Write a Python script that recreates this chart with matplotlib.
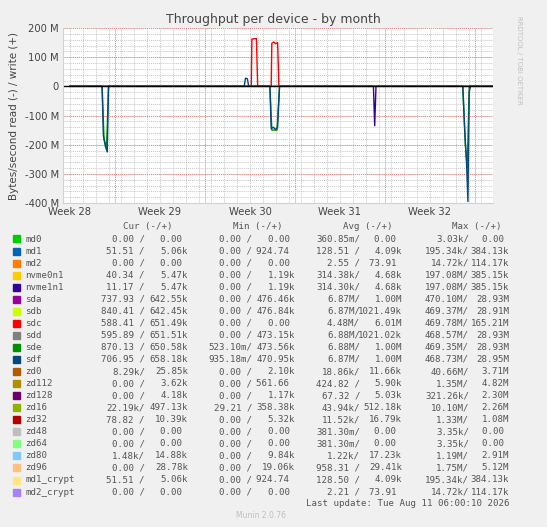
import numpy as np
import matplotlib.pyplot as plt
from matplotlib.ticker import MultipleLocator, FuncFormatter

# --- data (x in days since week 28 label, y in bytes/s) ---
sdf_x = [0, 2.5, 2.6, 2.75, 2.9, 3.0, 13.55, 13.65, 13.8, 13.9, 15.55, 15.65, 15.8, 16.0, 16.15, 16.3,
         30.55, 30.7, 30.85, 30.95, 31.05, 31.15, 33]
sdf_y = [0, 0, -170e6, -205e6, -225e6, 0, 0, 28e6, 26e6, 0, 0, -145e6, -140e6, -148e6, -140e6, 0,
         0, -150e6, -270e6, -395e6, -20e6, 0, 0]
sde_x = [0, 2.5, 2.65, 2.85, 3.0, 15.55, 15.7, 16.1, 16.3, 30.55, 30.75, 30.9, 31.05, 33]
sde_y = [0, 0, -180e6, -210e6, 0, 0, -150e6, -150e6, 0, 0, -200e6, -280e6, 0, 0]
sdc_x = [0, 14.1, 14.15, 14.5, 14.6, 15.65, 15.7, 15.85, 16.0, 16.15, 16.25, 33]
sdc_y = [0, 0, 162e6, 164e6, 0, 0, 148e6, 152e6, 146e6, 150e6, 0, 0]
nvme_x = [0, 23.6, 23.7, 23.8, 33]
nvme_y = [0, 0, -135e6, 0, 0]

names = ["md0", "md1", "md2", "nvme0n1", "nvme1n1", "sda", "sdb", "sdc", "sdd", "sde", "sdf",
         "zd0", "zd112", "zd128", "zd16", "zd32", "zd48", "zd64", "zd80", "zd96", "md1_crypt", "md2_crypt"]
colors = ["#00CC00", "#0066B3", "#FF8000", "#FFCC00", "#330099", "#990099", "#CCFF00", "#FF0000",
          "#808080", "#008F00", "#00487D", "#B35A00", "#B38F00", "#6B006B", "#8FB300", "#B30000",
          "#BEBEBE", "#80FF80", "#80C9FF", "#FFC080", "#FFE680", "#AA80FF"]
cur = [("0.00", "0.00"), ("51.51", "5.06k"), ("0.00", "0.00"), ("40.34", "5.47k"), ("11.17", "5.47k"),
       ("737.93", "642.55k"), ("840.41", "642.45k"), ("588.41", "651.49k"), ("595.89", "651.51k"),
       ("870.13", "650.58k"), ("706.95", "658.18k"), ("8.29k", "25.85k"), ("0.00", "3.62k"),
       ("0.00", "4.18k"), ("22.19k", "497.13k"), ("78.82", "10.39k"), ("0.00", "0.00"), ("0.00", "0.00"),
       ("1.48k", "14.88k"), ("0.00", "28.78k"), ("51.51", "5.06k"), ("0.00", "0.00")]
mins = [("0.00", "0.00"), ("0.00", "924.74"), ("0.00", "0.00"), ("0.00", "1.19k"), ("0.00", "1.19k"),
        ("0.00", "476.46k"), ("0.00", "476.84k"), ("0.00", "0.00"), ("0.00", "473.15k"),
        ("523.10m", "473.56k"), ("935.18m", "470.95k"), ("0.00", "2.10k"), ("0.00", "561.66"),
        ("0.00", "1.17k"), ("29.21", "358.38k"), ("0.00", "5.32k"), ("0.00", "0.00"), ("0.00", "0.00"),
        ("0.00", "9.84k"), ("0.00", "19.06k"), ("0.00", "924.74"), ("0.00", "0.00")]
avgs = [("360.85m", "0.00"), ("128.51", "4.09k"), ("2.55", "73.91"), ("314.38k", "4.68k"),
        ("314.30k", "4.68k"), ("6.87M", "1.00M"), ("6.87M", "1021.49k"), ("4.48M", "6.01M"),
        ("6.88M", "1021.02k"), ("6.88M", "1.00M"), ("6.87M", "1.00M"), ("18.86k", "11.66k"),
        ("424.82", "5.90k"), ("67.32", "5.03k"), ("43.94k", "512.18k"), ("11.52k", "16.79k"),
        ("381.30m", "0.00"), ("381.30m", "0.00"), ("1.22k", "17.23k"), ("958.31", "29.41k"),
        ("128.50", "4.09k"), ("2.21", "73.91")]
maxs = [("3.03k", "0.00"), ("195.34k", "384.13k"), ("14.72k", "114.17k"), ("197.08M", "385.15k"),
        ("197.08M", "385.15k"), ("470.10M", "28.93M"), ("469.37M", "28.91M"), ("469.78M", "165.21M"),
        ("468.57M", "28.93M"), ("469.35M", "28.93M"), ("468.73M", "28.95M"), ("40.66M", "3.71M"),
        ("1.35M", "4.82M"), ("321.26k", "2.30M"), ("10.10M", "2.26M"), ("1.33M", "1.08M"),
        ("3.35k", "0.00"), ("3.35k", "0.00"), ("1.19M", "2.91M"), ("1.75M", "5.12M"),
        ("195.34k", "384.13k"), ("14.72k", "114.17k")]
week_labels = ["Week 28", "Week 29", "Week 30", "Week 31", "Week 32"]

W, H = 547, 527
fig = plt.figure(figsize=(W / 100, H / 100), dpi=100, facecolor="#f0f0f0")
ax = fig.add_axes([63 / W, 1 - 203 / H, (493 - 63) / W, (203 - 28) / H])
ax.set_facecolor("white")
ax.set_xlim(-0.54, 32.9)
ax.set_ylim(-400e6, 200e6)

# grid: minor grey per day / 20M, major red per week / 100M
for d in np.arange(0, 33, 1):
    ax.axvline(d, color="#c8c8c8", lw=0.7, ls=(0, (1, 1)), zorder=0)
for d in np.arange(3.5, 33, 7):
    ax.axvline(d, color="#f08080", lw=0.7, ls=(0, (1, 1)), zorder=0)
for v in np.arange(-400e6, 201e6, 20e6):
    ax.axhline(v, color="#c8c8c8", lw=0.7, ls=(0, (1, 1)), zorder=0)
for v in np.arange(-400e6, 201e6, 100e6):
    ax.axhline(v, color="#f08080", lw=0.7, ls=(0, (1, 1)), zorder=0)

ax.plot(sde_x, sde_y, color="#008F00", lw=1)
ax.plot(sdf_x, sdf_y, color="#00487D", lw=1)
ax.plot(sdc_x, sdc_y, color="#FF0000", lw=1)
ax.plot(nvme_x, nvme_y, color="#330099", lw=1)
ax.axhline(0, color="black", lw=1)

ax.set_xticks(np.arange(0, 33, 7), week_labels)
ax.yaxis.set_major_locator(MultipleLocator(100e6))
ax.yaxis.set_major_formatter(FuncFormatter(lambda v, p: "0" if abs(v) < 1 else f"{v / 1e6:.0f} M"))
ax.tick_params(length=0, labelsize=7.2, colors="#444444", pad=3)
for s in ax.spines.values():
    s.set_visible(False)
ax.spines["left"].set_visible(True)
ax.spines["bottom"].set_visible(True)
ax.spines["left"].set_color("#ccccff")
ax.spines["bottom"].set_color("#ccccff")
ax.set_ylabel("Bytes/second read (-) / write (+)", fontsize=7.5, color="#444444", labelpad=4)

fig.text(273 / W, 1 - 20 / H, "Throughput per device - by month", ha="center", va="center",
         fontsize=9, color="#444444")
fig.text(519 / W, 1 - 60 / H, "RRDTOOL / TOBI OETIKER", rotation=270, ha="center", va="center",
         fontsize=5, color="#c0c0c0")

mono = dict(family="DejaVu Sans Mono", fontsize=6.6, color="#555555", va="center")
hdr_y = 227
for label, cx in [("Cur (-/+)", 148), ("Min (-/+)", 258), ("Avg (-/+)", 368), ("Max (-/+)", 477)]:
    fig.text(cx / W, 1 - hdr_y / H, label, ha="center", **mono)

cols = [(cur, 145, 188), (mins, 252, 295), (avgs, 360, 402), (maxs, 469, 509)]


def cell(v):
    return v if v[-1].isalpha() else v + " "


for i, name in enumerate(names):
    y = 1 - (239 + i * 12.05) / H
    fig.patches.append(plt.Rectangle((13 / W, y - 3.5 / H), 7 / W, 7 / H, color=colors[i],
                                     transform=fig.transFigure))
    fig.text(25 / W, y, name, ha="left", **mono)
    for data, rx, wx in cols:
        r, w = data[i]
        fig.text(rx / W, y, cell(r) + "/", ha="right", **mono)
        fig.text(wx / W, y, cell(w), ha="right", **mono)

fig.text(509 / W, 1 - 503 / H, "Last update: Tue Aug 11 06:00:10 2026", ha="right", **mono)
fig.text(261 / W, 1 - 516 / H, "Munin 2.0.76", ha="center", va="center", fontsize=5.5, color="#c0c0c0")

fig.savefig("out.png", dpi=100, facecolor=fig.get_facecolor())
